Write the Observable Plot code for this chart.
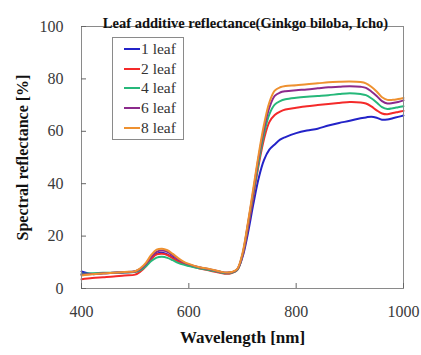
<!DOCTYPE html>
<html>
<head>
<meta charset="utf-8">
<script src="https://cdn.jsdelivr.net/npm/d3@7"></script>
<script src="https://cdn.jsdelivr.net/npm/@observablehq/plot@0.6"></script>
<style>
  body { margin: 0; background: #fff; }
  #wrap { position: relative; width: 421px; height: 355px; }
  #legend { position: absolute; left: 112px; top: 37px; width: 72px; height: 103px;
            border: 1px solid #8a8a8a; background: #fff; box-sizing: border-box;
            font-family: "Liberation Serif", "DejaVu Serif", serif; font-size: 15.5px; color: #333; padding-top: 1px; }
  .item { display: flex; align-items: center; height: 19.8px; }
  .swatch { width: 16px; height: 2px; margin-left: 11px; margin-right: 1px; }
</style>
</head>
<body>
<div id="wrap"></div>
<script>
const title = "Leaf additive reflectance(Ginkgo biloba, Icho)";
const xLabel = "Wavelength [nm]";
const yLabel = "Spectral reflectance [%]";
const xTicks = [400, 600, 800, 1000];
const yTicks = [0, 20, 40, 60, 80, 100];
const seriesNames = ["1 leaf", "2 leaf", "4 leaf", "6 leaf", "8 leaf"];
const seriesColors = ["#2323c8", "#f42a2a", "#26b87a", "#8c2a8c", "#ee9130"];

const wavelength = [400,420,440,460,480,500,510,520,530,540,550,560,570,580,590,600,620,640,660,670,680,690,700,710,720,730,740,750,760,770,780,800,820,840,860,880,900,920,930,940,950,960,970,980,990,1000];

const leaf1 = [6.5,5.5,5.8,6.0,6.2,6.6,7.5,9.0,11.5,13.2,13.6,13.0,11.8,10.5,9.6,9.0,8.0,7.2,6.3,6.0,6.2,7.2,12,21,32,42,49,53,55,56.8,57.8,59.3,60.3,61.0,62.2,63.2,64.0,65.0,65.3,65.6,65.2,64.4,64.5,65.0,65.5,66.0];
const leaf2 = [3.5,4.0,4.3,4.6,5.0,5.3,6.5,8.5,11.2,13.0,13.3,12.8,11.5,10.3,9.4,8.8,7.6,6.8,5.9,5.6,5.9,7.0,12.5,23,35,47,57,63.5,66.2,67.5,68.3,69.0,69.6,70.0,70.4,70.8,71.2,71.0,70.6,69.5,68.0,66.8,66.5,67.0,67.4,67.8];
const leaf4 = [5.5,5.8,6.0,6.0,6.1,6.3,7.0,8.5,10.5,11.8,12.1,11.7,10.8,9.8,9.1,8.6,7.7,7.0,6.1,5.8,6.0,7.0,12.8,24,36,48,59,66.5,70.2,71.5,72.2,72.8,73.2,73.5,73.8,74.2,74.5,74.2,73.8,72.6,71.0,69.2,68.5,68.8,69.2,69.6];
const leaf6 = [5.3,5.5,5.8,6.0,6.2,6.5,7.5,9.3,12.0,14.0,14.5,14.0,12.6,11.2,10.0,9.2,8.0,7.3,6.3,6.0,6.2,7.2,13,24.5,37,50,61,69,73.5,74.8,75.3,75.7,76.0,76.4,76.8,77.0,77.2,77.0,76.6,75.2,73.5,71.5,70.6,70.8,71.2,71.8];
const leaf8 = [5.0,5.4,5.7,6.0,6.3,6.6,7.8,9.8,12.8,14.8,15.2,14.6,13.2,11.6,10.3,9.4,8.1,7.4,6.4,6.1,6.3,7.4,13.5,25,38,51,62.5,71,75.5,76.8,77.3,77.6,78.0,78.3,78.7,78.9,79.0,78.8,78.3,77.0,75.2,73.0,72.0,72.0,72.3,72.7];

const seriesValues = [leaf1, leaf2, leaf4, leaf6, leaf8];
const rows = [];
seriesNames.forEach((name, i) => {
  wavelength.forEach((w, j) => rows.push({series: name, wavelength: w, value: seriesValues[i][j]}));
});

const serif = "'Liberation Serif', 'DejaVu Serif', serif";

const chart = Plot.plot({
  width: 421,
  height: 355,
  marginLeft: 81,
  marginRight: 18,
  marginTop: 26,
  marginBottom: 67,
  style: {fontFamily: serif, background: "#fff", overflow: "visible"},
  x: {domain: [400, 1000]},
  y: {domain: [0, 100]},
  color: {domain: seriesNames, range: seriesColors},
  marks: [
    Plot.line(rows, {x: "wavelength", y: "value", z: "series", stroke: "series", strokeWidth: 2, curve: "catmull-rom"}),
    Plot.frame({stroke: "#8a8a8a", strokeWidth: 1}),
    Plot.axisX({ticks: xTicks, tickSize: -5, tickPadding: 22, tickFormat: d => String(d), fontSize: 16, fontFamily: serif, fill: "#3a3a3a", stroke: "#666", label: null}),
    Plot.axisY({ticks: yTicks, tickSize: -5, tickPadding: 23, tickFormat: d => String(d), fontSize: 16, fontFamily: serif, fill: "#3a3a3a", stroke: "#666", label: null}),
    Plot.text([title], {frameAnchor: "top", dy: -9, dx: 3, fontSize: 14.5, fontWeight: "bold", fontFamily: serif, fill: "#111"}),
    Plot.text([xLabel], {frameAnchor: "bottom", dy: 54, fontSize: 17, fontWeight: "bold", fontFamily: serif, fill: "#111"}),
    Plot.text([yLabel], {frameAnchor: "left", textAnchor: "middle", dx: -59, rotate: -90, fontSize: 16, fontWeight: "bold", fontFamily: serif, fill: "#111"})
  ]
});

const wrap = document.getElementById("wrap");
wrap.appendChild(chart);

const legend = document.createElement("div");
legend.id = "legend";
seriesNames.forEach((name, i) => {
  const item = document.createElement("div");
  item.className = "item";
  const sw = document.createElement("span");
  sw.className = "swatch";
  sw.style.background = seriesColors[i];
  const t = document.createElement("span");
  t.textContent = name;
  item.appendChild(sw);
  item.appendChild(t);
  legend.appendChild(item);
});
wrap.appendChild(legend);
</script>
</body>
</html>
